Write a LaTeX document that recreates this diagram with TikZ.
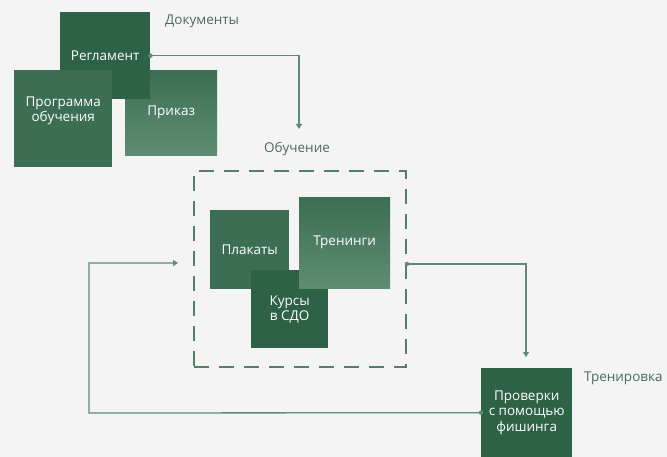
\documentclass[tikz,border=0pt]{standalone}
\usepackage{fontspec}
\setmainfont{Open Sans}
\usetikzlibrary{arrows.meta,positioning}
\definecolor{bg}{HTML}{F4F4F4}
\definecolor{deep}{HTML}{2D6247}
\definecolor{mid}{HTML}{3C6E53}
\definecolor{pale}{HTML}{5E8D73}
\definecolor{wire}{HTML}{5F8A76}
\definecolor{captext}{HTML}{4E6A5C}
\definecolor{frame}{HTML}{557F6A}

\begin{document}
\begin{tikzpicture}[x=1pt,y=-1pt,
  block/.style={anchor=north west, inner sep=0pt, align=center, text=white,
    font=\fontsize{13.5}{15.5}\selectfont},
  heading/.style={inner sep=0pt, text=captext, font=\fontsize{13.5}{15}\selectfont},
  link/.style={draw=wire, line width=1.3pt, -{Triangle[length=5pt,width=6pt]}},
  dot/.style={circle, fill=wire, inner sep=0pt, minimum size=4.5pt}
]
% background and page size
\fill[bg] (0,0) rectangle (667,457);
\useasboundingbox (0,0) rectangle (667,457);

% documents
\node[block, minimum width=92, minimum height=85, top color=mid, bottom color=pale] (prikaz) at (125,70) {Приказ};
\node[block, minimum width=90, minimum height=87, fill=deep] (regl) at (60,12) {Регламент};
\node[block, minimum width=98, minimum height=97, fill=mid] (prog) at (14,70) {Программа\\обучения\\[4pt]};
\node[heading, anchor=west] (docs) at (165,21) {Документы};

% training
\node[heading] (study) at (297,149) {Обучение};
\node[block, draw=frame, line width=2pt, dash pattern=on 15pt off 10pt,
  minimum width=212, minimum height=196] (learn) at (193,170) {};
\node[block, minimum width=79, minimum height=79, fill=mid] (plak) at (210,210) {Плакаты};
\node[block, minimum width=77, minimum height=78, fill=deep] (kurs) at (251,270) {Курсы\\в СДО};
\node[block, minimum width=91, minimum height=91, top color=mid, bottom color=pale] (tren) at (299,197) {Тренинги};

% phishing checks
\node[block, minimum width=91, minimum height=89, fill=deep] (check) at (481,368) {Проверки\\с помощью\\фишинга};
\node[heading, anchor=west] (drill) at (584,378) {Тренировка};

% connectors
\coordinate (intro) at (299,129);
\coordinate (down) at (526,357);
\coordinate (back) at (89,413);
\coordinate (in) at (178,263);
\coordinate (out) at ([yshift=5pt]learn.east);
\draw[link] (regl.east) -| (intro);
\draw[link] (out) -| (down);
\draw[link] (check.west) -- (back) |- (in);
\node[dot] at (regl.east) {};
\node[dot] at (out) {};
\node[dot] at (check.west) {};
\end{tikzpicture}
\end{document}
